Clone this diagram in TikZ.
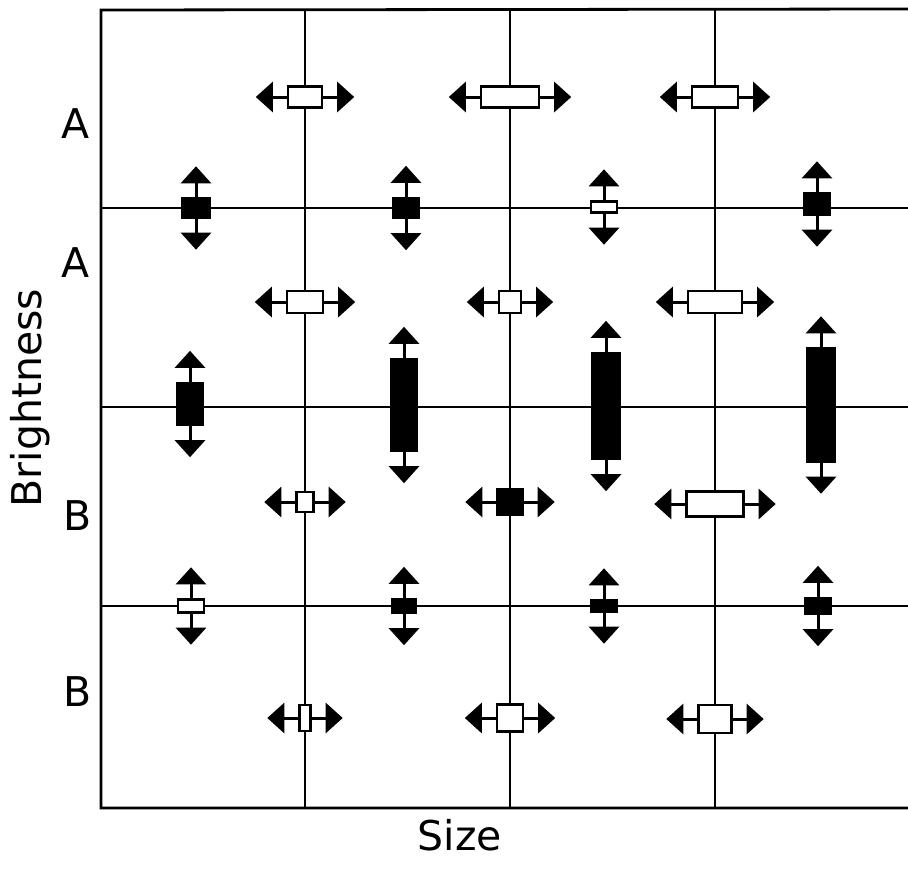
\documentclass[tikz,border=0pt]{standalone}
\usepackage{fontspec}
\setmainfont{DejaVu Sans}
\usetikzlibrary{arrows.meta}

\tikzset{
  gridline/.style={line width=2.8pt, line cap=square},
  mbox/.style={draw, line width=2.4pt, inner sep=0pt, rectangle},
  hollow/.style={fill=white},
  solid/.style={fill=black},
  marrow/.style={line width=3pt, -{Triangle[length=17pt,width=30pt]}},
  lab/.style={font=\fontsize{41}{41}\selectfont, inner sep=0pt}
}

% marker with left/right arrows: name, x, y, width, height, fill style
\newcommand\hmarker[6]{%
  \node[mbox,#6,minimum width=#4pt,minimum height=#5pt] (#1) at (#2,#3) {};
  \draw[marrow] (#1.west) -- ++(-31,0);
  \draw[marrow] (#1.east) -- ++(31,0);
}
% marker with up/down arrows: name, x, y, width, height, fill style
\newcommand\vmarker[6]{%
  \node[mbox,#6,minimum width=#4pt,minimum height=#5pt] (#1) at (#2,#3) {};
  \draw[marrow] (#1.north) -- ++(0,-31);
  \draw[marrow] (#1.south) -- ++(0,31);
}

\begin{document}
\begin{tikzpicture}[x=1pt,y=-1pt]
\fill[white] (0,0) rectangle (908,876);
\useasboundingbox (0,0) rectangle (908,876);

% frame and grid
\draw[gridline] (908,9) -- (101,10) -- (101,808) -- (908,808);
\foreach \gx in {305,510,715} \draw[gridline] (\gx,10) -- (\gx,808);
\foreach \gy in {208,407,606} \draw[gridline] (101,\gy) -- (908,\gy);

% markers on the vertical lines
\hmarker{h11}{305}{97}{34}{21}{hollow}
\hmarker{h12}{510}{97}{58}{21}{hollow}
\hmarker{h13}{715}{97}{46}{21}{hollow}
\hmarker{h21}{305}{302}{36}{22}{hollow}
\hmarker{h22}{510}{302}{22}{22}{hollow}
\hmarker{h23}{715}{302}{54}{22}{hollow}
\hmarker{h31}{305}{502}{17}{20}{hollow}
\hmarker{h32}{510}{502}{25}{25}{solid}
\hmarker{h33}{715}{504}{57}{25}{hollow}
\hmarker{h41}{305}{718}{11}{26}{hollow}
\hmarker{h42}{510}{718}{26}{27}{hollow}
\hmarker{h43}{715}{719}{33}{28}{hollow}

% markers on the horizontal lines
\vmarker{v11}{196}{208}{27}{19}{solid}
\vmarker{v12}{406}{208}{26}{20}{solid}
\vmarker{v13}{604}{207}{26}{11}{hollow}
\vmarker{v14}{817}{204}{26}{21}{solid}
\vmarker{v21}{190}{404}{26}{42}{solid}
\vmarker{v22}{404}{405}{26}{92}{solid}
\vmarker{v23}{606}{406}{27}{106}{solid}
\vmarker{v24}{821}{405}{27}{113}{solid}
\vmarker{v31}{191}{606}{26}{13}{hollow}
\vmarker{v32}{404}{606}{24}{14}{solid}
\vmarker{v33}{604}{606}{25}{11}{solid}
\vmarker{v34}{818}{606}{25}{16}{solid}

% labels
\node[lab] (la1) at (76,124) {A};
\node[lab] (la2) at (76,263) {A};
\node[lab] (lb1) at (78,516) {B};
\node[lab] (lb2) at (78,692) {B};
\node[lab,rotate=90] (ybright) at (30,398) {Brightness};
\node[lab] (xsize) at (460,835) {Size};
\end{tikzpicture}
\end{document}
